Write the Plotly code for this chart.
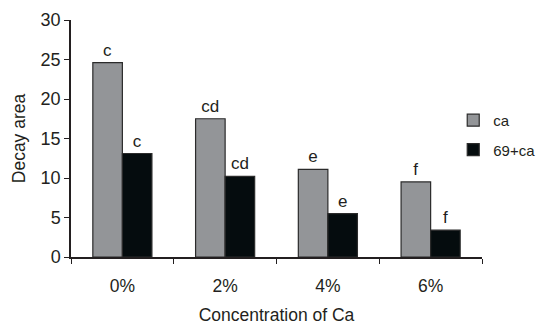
import plotly.graph_objects as go

categories = ["0%", "2%", "4%", "6%"]
ca_values = [24.6, 17.5, 11.1, 9.5]
ca69_values = [13.1, 10.2, 5.5, 3.4]
ca_letters = ["c", "cd", "e", "f"]
ca69_letters = ["c", "cd", "e", "f"]

font_family = "Liberation Sans, Arial, sans-serif"
txt_color = "#231f20"

fig = go.Figure()
fig.add_trace(go.Bar(
    x=categories, y=ca_values, name="ca", legendgroup="a",
    marker=dict(color="#939598", line=dict(color="#2b2b2b", width=1.2)),
    text=ca_letters, textposition="outside", cliponaxis=False,
    textfont=dict(size=17, color=txt_color, family=font_family),
))
fig.add_trace(go.Bar(
    x=categories, y=ca69_values, name="69+ca", legendgroup="b",
    marker=dict(color="#050c0e", line=dict(color="#2b2b2b", width=1.2)),
    text=ca69_letters, textposition="outside", cliponaxis=False,
    textfont=dict(size=17, color=txt_color, family=font_family),
))

fig.update_layout(
    width=537, height=325,
    margin=dict(l=71, r=55, t=20, b=68, autoexpand=False),
    paper_bgcolor="white", plot_bgcolor="white",
    barmode="group", bargap=0.425, bargroupgap=0,
    font=dict(family=font_family, size=17, color=txt_color),
    showlegend=True,
    legend=dict(x=0.93, y=0.515, xanchor="left", yanchor="middle",
                bgcolor="rgba(0,0,0,0)", font=dict(size=15, color=txt_color),
                traceorder="grouped", tracegroupgap=7, itemwidth=30),
)
fig.update_xaxes(
    type="category", tickson="boundaries", ticks="outside", ticklen=5,
    tickcolor="#231f20", showline=True, linecolor="#231f20", linewidth=1.5,
    showgrid=False, tickfont=dict(size=17.5), ticklabelstandoff=12,
    automargin=False,
    title=dict(text="Concentration of Ca", font=dict(size=17.5), standoff=16),
)
fig.update_yaxes(
    range=[0, 30], dtick=5, ticks="outside", ticklen=5, tickcolor="#231f20",
    showline=True, linecolor="#231f20", linewidth=1.5, showgrid=False,
    zeroline=False, tickfont=dict(size=18), automargin=False,
    title=dict(text="Decay area", font=dict(size=17.5), standoff=10),
)

fig.write_html(
    "out.html",
    config={"responsive": False, "displayModeBar": False},
    post_script="document.body.style.margin='0';document.body.style.overflow='hidden';",
)
